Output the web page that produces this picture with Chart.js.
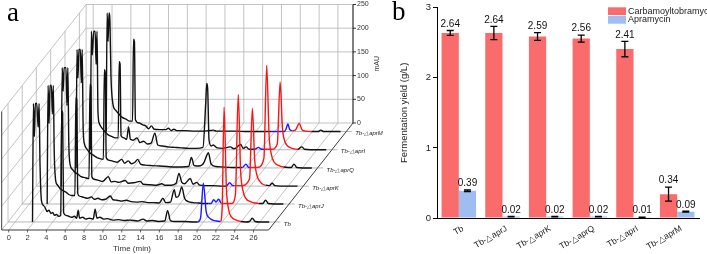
<!DOCTYPE html>
<html>
<head>
<meta charset="utf-8">
<script src="https://cdn.jsdelivr.net/npm/chart.js@4.4.1/dist/chart.umd.min.js"></script>
<style>
    html, body { margin: 0; padding: 0; background: #fff; }
    #wrap { position: relative; width: 707px; height: 254px; overflow: hidden; }
    canvas { position: absolute; top: 0; }
    #chrom { left: 0; }
    #yield { left: 360px; }
</style>
</head>
<body>
<div id="wrap">
    <canvas id="chrom" width="390" height="254"></canvas>
    <canvas id="yield" width="347" height="254"></canvas>
</div>
<script>
const SANS = '"Liberation Sans", Arial, sans-serif';
const SERIF = '"Liberation Serif", "Times New Roman", serif';

// ---- panel a: HPLC traces, [time (min), absorbance (mAU)] ----
const trace_names = ['Tb', 'Tb-△aprJ', 'Tb-△aprK', 'Tb-△aprQ', 'Tb-△aprI', 'Tb-△aprM'];
const trace_depth = [0.075, 0.243, 0.41, 0.58, 0.75, 0.92];

const trace_tb = [
    [1.85, 0], [1.95, 250], [2.05, 180], [2.15, 250], [2.3, 250], [2.45, 200], [2.55, 250], [2.65, 120],
    [2.8, 45], [3.0, 35], [3.2, 30], [3.4, 22], [3.6, 25], [3.8, 18], [4.0, 20], [4.2, 14], [4.4, 16],
    [4.6, 12], [4.85, 14], [4.95, 235], [5.05, 230], [5.15, 20], [5.4, 14], [5.7, 12], [6.0, 10],
    [6.3, 12], [6.55, 8], [6.7, 25], [6.85, 8], [7.2, 10], [7.5, 6], [7.9, 8], [8.3, 6], [8.5, 27],
    [8.7, 8], [9.0, 10], [9.4, 6], [9.8, 7], [10.4, 4], [11.0, 5], [11.6, 3], [12.2, 4], [13.0, 2],
    [13.6, 6], [14.0, 2], [14.6, 3], [15.2, 1], [15.9, 2], [16.2, 24], [16.5, 3], [17.0, 1], [18.0, 1],
    [19.0, 0], [19.4, 0], [19.7, 8], [20.0, 82], [20.3, 22], [20.6, 9], [21.0, 4], [21.4, 2], [21.8, 1],
    [22.0, 30], [22.2, 242], [22.45, 70], [22.7, 25], [23.0, 10], [23.5, 4], [24.0, 1], [24.5, 0],
    [24.9, 1], [25.2, 8], [25.5, 1], [26.0, 0], [27.0, 0],
];
const trace_aprj = [
    [1.9, 0], [2.0, 250], [2.1, 170], [2.2, 250], [2.35, 250], [2.45, 190], [2.55, 250], [2.65, 110],
    [2.8, 50], [3.0, 40], [3.3, 32], [3.6, 28], [3.9, 25], [4.2, 20], [4.5, 18], [4.85, 18], [4.95, 225],
    [5.05, 220], [5.15, 22], [5.4, 16], [5.8, 14], [6.2, 12], [6.6, 15], [6.9, 10], [7.3, 12], [7.7, 9],
    [8.1, 10], [8.6, 17], [8.9, 9], [9.3, 8], [9.8, 6], [10.3, 8], [10.8, 5], [11.4, 4], [12.0, 5],
    [12.6, 3], [13.2, 3], [13.8, 2], [14.2, 12], [14.5, 3], [15.0, 4], [15.4, 30], [15.6, 14], [15.9, 18],
    [16.2, 36], [16.5, 12], [16.9, 5], [17.4, 3], [18.0, 2], [18.6, 1], [19.0, 1], [19.3, 1], [19.6, 9],
    [19.85, 4], [20.1, 10], [20.4, 2], [20.8, 1], [21.5, 1], [21.9, 20], [22.2, 231], [22.45, 70],
    [22.7, 28], [23.0, 12], [23.5, 5], [24.0, 2], [24.4, 1], [24.8, 1], [25.1, 8], [25.4, 1], [26.0, 0],
    [27.0, 0],
];
const trace_aprk = [
    [1.9, 0], [2.0, 250], [2.1, 200], [2.2, 250], [2.4, 250], [2.5, 170], [2.6, 250], [2.7, 90],
    [2.85, 45], [3.1, 35], [3.4, 28], [3.7, 25], [4.0, 20], [4.4, 18], [4.85, 16], [4.95, 215], [5.05, 210],
    [5.15, 20], [5.5, 14], [5.9, 12], [6.3, 10], [6.9, 20], [7.2, 9], [7.6, 10], [8.0, 8], [8.7, 12],
    [9.0, 6], [9.6, 7], [10.3, 10], [10.6, 4], [11.3, 3], [12.0, 2], [12.6, 5], [12.9, 2], [13.6, 2],
    [14.1, 6], [14.4, 27], [14.7, 8], [15.0, 5], [15.6, 16], [15.9, 4], [16.3, 8], [16.6, 2], [17.2, 1],
    [18.0, 1], [19.0, 0], [19.4, 0], [19.8, 7], [20.1, 1], [20.3, 1], [21.0, 1], [21.9, 15], [22.2, 164],
    [22.45, 55], [22.7, 22], [23.0, 10], [23.3, 4], [23.6, 2], [24.0, 1], [24.3, 6], [24.6, 1], [25.2, 0],
    [26.0, 0], [27.0, 0],
];
const trace_aprq = [
    [1.95, 0], [2.05, 250], [2.15, 190], [2.25, 250], [2.4, 250], [2.5, 180], [2.6, 250], [2.7, 85],
    [2.85, 50], [3.1, 40], [3.4, 32], [3.7, 28], [4.0, 24], [4.4, 20], [4.85, 18], [4.95, 207], [5.05, 200],
    [5.15, 22], [5.5, 16], [5.9, 14], [6.3, 12], [6.8, 18], [7.1, 10], [7.5, 15], [7.8, 9], [8.2, 12],
    [8.5, 18], [8.8, 8], [9.3, 6], [10.0, 5], [10.8, 4], [11.6, 3], [12.4, 2], [13.2, 2], [13.9, 3],
    [14.2, 22], [14.5, 5], [15.0, 4], [15.5, 10], [15.8, 25], [16.0, 32], [16.3, 8], [16.8, 3], [17.5, 2],
    [18.5, 1], [19.3, 1], [19.6, 1], [20.0, 8], [20.3, 1], [20.5, 1], [21.2, 1], [21.9, 20], [22.2, 216],
    [22.45, 70], [22.7, 28], [23.0, 12], [23.5, 5], [24.0, 2], [24.5, 1], [24.8, 1], [25.1, 8], [25.4, 1],
    [26.0, 0], [27.0, 0],
];
const trace_apri = [
    [1.95, 0], [2.05, 250], [2.15, 200], [2.3, 250], [2.45, 250], [2.55, 180], [2.65, 250], [2.75, 80],
    [2.9, 55], [3.2, 45], [3.5, 38], [3.8, 32], [4.2, 28], [4.6, 25], [4.9, 25], [5.0, 186], [5.1, 180],
    [5.2, 30], [5.5, 25], [5.8, 22], [6.0, 48], [6.2, 22], [6.5, 20], [6.9, 25], [7.2, 15], [7.6, 18],
    [8.0, 12], [8.4, 14], [8.8, 35], [9.1, 10], [9.6, 8], [10.2, 6], [10.9, 5], [11.6, 4], [12.4, 3],
    [13.2, 3], [13.9, 5], [14.2, 100], [14.3, 140], [14.4, 130], [14.55, 20], [14.8, 8], [15.0, 10],
    [15.4, 4], [16.0, 3], [16.8, 6], [17.2, 2], [17.9, 11], [18.2, 3], [18.5, 6], [18.8, 1], [19.4, 1],
    [19.8, 5], [20.1, 1], [20.5, 1], [21.2, 1], [21.8, 12], [22.1, 143], [22.35, 45], [22.6, 18],
    [22.9, 8], [23.4, 3], [24.0, 1], [24.4, 6], [24.7, 1], [25.3, 0], [26.0, 0], [27.0, 0],
];
const trace_aprm = [
    [2.1, 0], [2.2, 250], [2.3, 190], [2.4, 250], [2.5, 230], [2.6, 120], [2.8, 60], [3.1, 45], [3.4, 38],
    [3.8, 30], [4.2, 26], [4.6, 22], [4.9, 22], [5.0, 195], [5.1, 190], [5.2, 25], [5.6, 18], [6.0, 14],
    [6.3, 12], [6.6, 6], [6.9, 12], [7.2, 5], [7.8, 4], [8.4, 4], [8.7, 7], [9.0, 2], [9.3, 5], [9.6, 2],
    [10.5, 2], [11.5, 1], [12.5, 1], [13.5, 3], [13.8, 1], [15.0, 1], [16.0, 1], [17.0, 0], [18.0, 0],
    [19.0, 0], [19.6, 0], [21.0, 0], [21.2, 5], [21.4, 16], [21.6, 4], [21.9, 2], [22.2, 3], [22.6, 17],
    [22.9, 4], [23.3, 1], [23.9, 0], [24.6, 0], [24.9, 3], [25.2, 0], [26.0, 0], [27.0, 0],
];
const traces = [trace_tb, trace_aprj, trace_aprk, trace_aprq, trace_apri, trace_aprm];

// retention windows coloured as apramycin (blue) and carbamoyltobramycin (red)
const apramycin_window = [[19.4, 21.8], [19.0, 20.4], [19.4, 20.3], [19.6, 20.5], [19.4, 20.5], [19.6, 21.9]];
const carbamoyl_window = [[21.8, 24.0], [20.4, 24.4], [20.3, 23.6], [20.5, 24.2], [20.5, 24.0], [21.9, 23.9]];

const time_ticks = [0, 2, 4, 6, 8, 10, 12, 14, 16, 18, 20, 22, 24, 26];
const mau_ticks = [0, 50, 100, 150, 200, 250];

// box of the waterfall plot
const T_LEFT = -0.75;
const T_RIGHT = 27.6;
const MAU_TOP = 250;
const DEPTH_T = 8.97;      // shift in minutes from front to back wall
const DEPTH_MAU = 225.7;   // shift in mAU from front to back wall
const BASELINE_END = 28.2;

function trace_colour(i, t0, t1) {
    const mid = (t0 + t1) / 2;
    const [b0, b1] = apramycin_window[i];
    const [r0, r1] = carbamoyl_window[i];
    if (mid > b0 && mid < b1) {
        return '#1a1aff';
    }
    if (mid > r0 && mid < r1) {
        return '#ff1414';
    }
    return '#111';
}

function projector(chart) {
    const { x, y } = chart.scales;
    return (t, v, d) => [x.getPixelForValue(t + d * DEPTH_T), y.getPixelForValue(v + d * DEPTH_MAU)];
}

const chrom_frame = {
    id: 'chrom_frame',
    beforeDatasetsDraw(chart) {
        const ctx = chart.ctx;
        const at = projector(chart);
        const seg = (a, b, colour, width) => {
            ctx.beginPath();
            ctx.moveTo(a[0], a[1]);
            ctx.lineTo(b[0], b[1]);
            ctx.strokeStyle = colour;
            ctx.lineWidth = width;
            ctx.stroke();
        };
        ctx.save();
        const grid = '#b4b4b4';
        // back wall
        for (const t of time_ticks) seg(at(t, 0, 1), at(t, MAU_TOP, 1), grid, 0.8);
        for (const v of mau_ticks) seg(at(T_LEFT, v, 1), at(T_RIGHT, v, 1), grid, 0.8);
        seg(at(T_LEFT, 0, 1), at(T_LEFT, MAU_TOP, 1), grid, 0.8);
        // side wall
        for (const v of mau_ticks) seg(at(T_LEFT, v, 0), at(T_LEFT, v, 1), grid, 0.8);
        for (const d of trace_depth) seg(at(T_LEFT, 0, d), at(T_LEFT, MAU_TOP, d), grid, 0.8);
        // floor
        for (const t of time_ticks) seg(at(t, 0, 0), at(t, 0, 1), grid, 0.8);
        for (const d of trace_depth) seg(at(T_LEFT, 0, d), at(BASELINE_END, 0, d), '#a6a6a6', 0.8);
        // outer edges
        const edge = '#3c3c3c';
        seg(at(T_LEFT, 0, 0), at(T_RIGHT, 0, 0), edge, 1);
        seg(at(T_RIGHT, 0, 0), at(T_RIGHT, 0, 1), edge, 1);
        seg(at(T_LEFT, 0, 0), at(T_LEFT, MAU_TOP, 0), edge, 1);
        seg(at(T_RIGHT, 0, 1), at(T_RIGHT, MAU_TOP, 1), '#000', 1);
        for (const t of time_ticks) {
            const p = at(t, 0, 0);
            seg(p, [p[0], p[1] + 2.5], edge, 0.8);
        }
        for (const v of mau_ticks) {
            const p = at(T_RIGHT, v, 1);
            seg(p, [p[0] + 3, p[1]], '#000', 0.8);
        }
        ctx.restore();
    },
    afterDraw(chart) {
        const ctx = chart.ctx;
        const at = projector(chart);
        ctx.save();
        ctx.fillStyle = '#333';
        ctx.font = `7.5px ${SANS}`;
        ctx.textAlign = 'center';
        ctx.textBaseline = 'middle';
        for (const t of time_ticks) {
            const p = at(t, 0, 0);
            ctx.fillText(String(t), p[0], p[1] + 8);
        }
        ctx.font = `8px ${SANS}`;
        const tp = at(13.1, 0, 0);
        ctx.fillText('Time (min)', tp[0], tp[1] + 19);

        ctx.font = `7px ${SANS}`;
        ctx.textAlign = 'left';
        for (const v of mau_ticks) {
            const p = at(T_RIGHT, v, 1);
            ctx.fillText(String(v), p[0] + 4, p[1]);
        }
        const mp = at(T_RIGHT, MAU_TOP / 2, 1);
        ctx.save();
        ctx.translate(mp[0] + 24, mp[1]);
        ctx.rotate(-Math.PI / 2);
        ctx.textAlign = 'center';
        ctx.fillText('mAU', 0, 0);
        ctx.restore();

        ctx.font = `italic 6px ${SANS}`;
        ctx.fillStyle = '#222';
        trace_names.forEach((name, i) => {
            const p = at(28.55, 0, trace_depth[i]);
            ctx.fillText(name, p[0], p[1] + 2);
        });

        ctx.fillStyle = '#000';
        ctx.font = `27px ${SERIF}`;
        ctx.textBaseline = 'alphabetic';
        ctx.fillText('a', 7, 21);
        ctx.restore();
    },
};

const chrom_datasets = traces.map((pts, i) => ({
    label: trace_names[i],
    data: pts.map(([t, v]) => ({ x: t + trace_depth[i] * DEPTH_T, y: v + trace_depth[i] * DEPTH_MAU })),
    showLine: true,
    pointRadius: 0,
    borderWidth: 1.4,
    borderColor: '#111',
    cubicInterpolationMode: 'monotone',
    segment: {
        borderColor: ctx => trace_colour(i, pts[ctx.p0DataIndex][0], pts[ctx.p1DataIndex][0]),
    },
}));

new Chart(document.getElementById('chrom'), {
    type: 'scatter',
    data: { datasets: chrom_datasets },
    options: {
        responsive: false,
        animation: false,
        devicePixelRatio: 1,
        layout: { padding: { left: 1.7, right: 37, top: 4.5, bottom: 24 } },
        plugins: { legend: { display: false }, tooltip: { enabled: false } },
        scales: {
            x: { display: false, min: T_LEFT, max: T_RIGHT + DEPTH_T },
            y: { display: false, min: 0, max: MAU_TOP + DEPTH_MAU },
        },
    },
    plugins: [chrom_frame],
});

// ---- panel b: fermentation yield (g/L) ----
const strains = ['Tb', 'Tb-△aprJ', 'Tb-△aprK', 'Tb-△aprQ', 'Tb-△aprI', 'Tb-△aprM'];
const carbamoyl_yield = [2.64, 2.64, 2.59, 2.56, 2.41, 0.34];
const carbamoyl_err = [0.035, 0.095, 0.055, 0.05, 0.11, 0.10];
const apramycin_yield = [0.39, 0.02, 0.02, 0.02, 0.01, 0.09];
const apramycin_err = [0.012, 0.004, 0.004, 0.004, 0.002, 0.006];
const yield_ticks = [0, 1, 2, 3];

const RED = '#fa6b6b';
const BLUE = '#a0bdf2';

const error_bars = {
    id: 'error_bars',
    afterDatasetsDraw(chart) {
        const ctx = chart.ctx;
        const y = chart.scales.y;
        ctx.save();
        ctx.strokeStyle = '#000';
        ctx.lineWidth = 1.3;
        ctx.fillStyle = '#111';
        ctx.font = `10px ${SANS}`;
        ctx.textAlign = 'center';
        ctx.textBaseline = 'bottom';
        chart.data.datasets.forEach((ds, di) => {
            chart.getDatasetMeta(di).data.forEach((bar, i) => {
                const v = ds.data[i];
                const e = ds.errors[i];
                const top = y.getPixelForValue(v + e);
                const bottom = y.getPixelForValue(v - e);
                ctx.beginPath();
                ctx.moveTo(bar.x, top);
                ctx.lineTo(bar.x, bottom);
                ctx.moveTo(bar.x - 3.5, top);
                ctx.lineTo(bar.x + 3.5, top);
                ctx.moveTo(bar.x - 3.5, bottom);
                ctx.lineTo(bar.x + 3.5, bottom);
                ctx.stroke();
                ctx.fillText(v.toFixed(2), bar.x, top - 1.5);
            });
        });
        ctx.restore();
    },
    afterDraw(chart) {
        const ctx = chart.ctx;
        const x = chart.scales.x;
        const base = chart.chartArea.bottom;
        ctx.save();
        ctx.fillStyle = '#222';
        ctx.font = `8.5px ${SANS}`;
        ctx.textAlign = 'right';
        ctx.textBaseline = 'middle';
        strains.forEach((name, i) => {
            ctx.save();
            ctx.translate(x.getPixelForValue(i) + 4, base + 10);
            ctx.rotate(-Math.PI / 6);
            ctx.fillText(name, 0, 0);
            ctx.restore();
        });

        // legend
        const lx = 248;
        ctx.fillStyle = RED;
        ctx.fillRect(lx, 7.3, 18, 7.7);
        ctx.fillStyle = BLUE;
        ctx.fillRect(lx, 16, 18, 7.7);
        ctx.fillStyle = '#222';
        ctx.textAlign = 'left';
        ctx.font = `9px ${SANS}`;
        ctx.fillText('Carbamoyltobramycin', lx + 20, 11.2);
        ctx.fillText('Apramycin', lx + 20, 20);

        ctx.fillStyle = '#000';
        ctx.font = `27px ${SERIF}`;
        ctx.textBaseline = 'alphabetic';
        ctx.fillText('b', 32, 20);
        ctx.restore();
    },
};

new Chart(document.getElementById('yield'), {
    type: 'bar',
    data: {
        labels: strains,
        datasets: [
            { label: 'Carbamoyltobramycin', data: carbamoyl_yield, errors: carbamoyl_err, backgroundColor: RED },
            { label: 'Apramycin', data: apramycin_yield, errors: apramycin_err, backgroundColor: BLUE },
        ],
    },
    options: {
        responsive: false,
        animation: false,
        devicePixelRatio: 1,
        categoryPercentage: 0.79,
        barPercentage: 1,
        layout: { padding: { left: 0, right: 8, top: 7, bottom: 0 } },
        plugins: { legend: { display: false }, tooltip: { enabled: false } },
        scales: {
            x: {
                grid: { display: false },
                border: { color: '#000', width: 1 },
                ticks: { display: false },
                afterFit: s => { s.height = 36; },
            },
            y: {
                min: 0,
                max: 3,
                afterBuildTicks: s => { s.ticks = yield_ticks.map(value => ({ value })); },
                grid: { drawOnChartArea: false, tickLength: 4, color: '#000' },
                border: { color: '#000', width: 1 },
                ticks: { color: '#222', font: { family: SANS, size: 9.5 }, padding: 2 },
                title: {
                    display: true,
                    text: 'Fermentation yield (g/L)',
                    color: '#222',
                    font: { family: SANS, size: 9.5 },
                    padding: { top: 39, bottom: 0 },
                },
                afterFit: s => { s.width = 77; },
            },
        },
    },
    plugins: [error_bars],
});
</script>
</body>
</html>
